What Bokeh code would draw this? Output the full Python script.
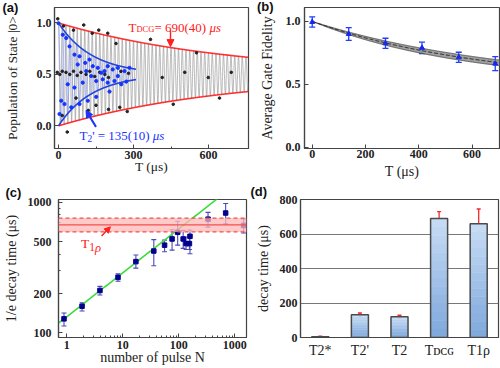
import numpy as np
from bokeh.plotting import figure
from bokeh.layouts import row, column
from bokeh.models import (Range1d, FixedTicker, Arrow, NormalHead, TeeHead,
                          Whisker, ColumnDataSource, BoxAnnotation, Span,
                          NumeralTickFormatter, FactorRange)
from bokeh.embed import file_html
from bokeh.resources import INLINE
from bokeh.core.properties import value

SERIF = "Liberation Serif"
SANS = "Liberation Sans"

# ---------------- panel (a) data ----------------
T_DCG = 690.0        # us, fitted decay (red envelope)
T2_PRIME = 135.0     # us, fitted decay (blue envelope)
OSC_PERIOD_GRAY = 15.0
OSC_PERIOD_BLUE = 24.0
a_blk_T = [-3, 20, 60, 101, 135, 161, 197, 230, 368, 552,
           -5, 5, 15, 30, 45, 60, 75, 90, 110, 125, 145, 165, 185, 200, 250, 280, 415, 505, 599, 691,
           35, 15, 70, 119, 150, 200, 245, 275, 459, 644]
a_blk_P = [1.04, 0.97, 0.93, 0.98, 0.90, 0.93, 0.90, 0.80, 0.84, 0.71,
           0.52, 0.50, 0.53, 0.52, 0.50, 0.53, 0.49, 0.52, 0.50, 0.53, 0.48, 0.52, 0.50, 0.47, 0.53, 0.51, 0.47, 0.52, 0.47, 0.52,
           -0.06, 0.10, 0.27, 0.15, 0.20, 0.16, 0.18, 0.14, 0.21, 0.27]
a_blu_T = [0, 17, 31, 44, 64, 84, 107, 124, 137, 157, 171, 197, 217, 237, 264, 284,
           64, 97, 131, 151, 177, 197, 224, 251, 271,
           24, 51, 84, 117, 151, 204, 11, 37, 111, 4, 77, 184, 237]
a_blu_P = [0.997, 0.885, 0.853, 0.772, 0.692, 0.676, 0.612, 0.644, 0.580, 0.564, 0.516, 0.580, 0.548, 0.564, 0.532, 0.564,
           0.372, 0.420, 0.484, 0.436, 0.452, 0.420, 0.436, 0.404, 0.430,
           0.212, 0.180, 0.212, 0.244, 0.282, 0.333, 0.244, 0.404, 0.532, 0.115, 0.596, 0.532, 0.484]

# ---------------- panel (b) data ----------------
b_T = [0, 137, 275, 412, 550, 687]
b_F = [0.995, 0.900, 0.826, 0.790, 0.715, 0.665]
b_err = [0.040, 0.050, 0.040, 0.045, 0.040, 0.055]
B_T_FIT, B_T_LO, B_T_HI = 660.0, 580.0, 740.0

# ---------------- panel (c) data ----------------
c_N = [0.89, 1.87, 3.9, 8.2, 17.1, 35.7, 55.6, 75.7, 95.3, 119.4, 134.6, 154.5, 158, 332, 685, 1431]
c_T = [128, 160, 211, 266, 351, 423, 469, 523, 588, 523, 482, 482, 548, 741, 826, 664]
c_lo = [113, 147, 195, 248, 313, 326, 418, 430, 469, 443, 434, 434, 403, 644, 682, 581]
c_hi = [142, 170, 227, 283, 394, 517, 512, 615, 714, 608, 542, 542, 612, 836, 977, 745]
C_FIT_A, C_FIT_EXP = 133.0, 0.336
T1RHO, T1RHO_LO, T1RHO_HI = 670.0, 592.0, 755.0

# ---------------- panel (d) data ----------------
d_cats = ["T2*", "T2'", "T2", "T\u1d05\u1d04\u0262", "T1\u03c1"]
d_vals = [5, 132, 120, 690, 660]
d_err = [3, 10, 9, 40, 85]

TW = {' ': .25, "'": .18, '(': .333, ')': .333, '=': .564, 'T': .611, 'D': .722, 'C': .667,
      'G': .722, '\u03bc': .5, 's': .389, '\u03c1': .5, '*': .5}


def tw(s, size):
    return sum(TW.get(ch, .5) for ch in s) * size


def rich(p, x, y, segs, color):
    off = 0.0
    for txt, size, dy, style in segs:
        p.text(x=[x], y=[y], text=[txt], x_offset=off, y_offset=dy,
               text_font=value(SERIF), text_font_size=f"{size}px", text_font_style=style,
               text_color=color, text_baseline="alphabetic", text_align="left")
        off += tw(txt, size)


def style(p, tick_font="12px", lab_font="14px"):
    p.outline_line_color = "#444444"
    p.outline_line_width = 1.2
    p.grid.visible = False
    p.background_fill_color = "white"
    p.border_fill_color = "white"
    for ax in p.axis:
        ax.axis_line_color = "#444444"
        ax.axis_line_width = 1.2
        ax.major_tick_in = 4
        ax.major_tick_out = 0
        ax.minor_tick_in = 2
        ax.minor_tick_out = 0
        ax.major_tick_line_color = "#444444"
        ax.minor_tick_line_color = "#444444"
        ax.major_label_text_font = SERIF
        ax.major_label_text_font_style = "bold"
        ax.major_label_text_font_size = tick_font
        ax.major_label_text_color = "#222222"
        ax.axis_label_text_font = SERIF
        ax.axis_label_text_font_style = "normal"
        ax.axis_label_text_font_size = lab_font
        ax.axis_label_text_color = "#222222"


def panel_title(p, txt, offset, standoff, valign):
    p.title.text = txt
    p.title.align = "left"
    p.title.offset = offset
    p.title.standoff = standoff
    p.title.vertical_align = valign
    p.title.text_font = SANS
    p.title.text_font_style = "bold"
    p.title.text_font_size = "13px"
    p.title.text_color = "#111111"


# ================= (a) =================
pa = figure(width=250, height=184, x_range=Range1d(-16, 760), y_range=Range1d(-0.22, 1.15),
            output_backend="svg", toolbar_location=None,
            min_border_left=54, min_border_right=2, min_border_top=7, min_border_bottom=34)
ta = np.linspace(0, 760, 5000)
pa.line(ta, 0.5 + 0.5 * np.exp(-ta / T_DCG) * np.cos(2 * np.pi * ta / OSC_PERIOD_GRAY),
        line_color="#8a8a8a", line_width=0.6)
tb = np.linspace(0, 300, 1500)
pa.line(tb, 0.5 + 0.5 * np.exp(-tb / T2_PRIME) * np.cos(2 * np.pi * tb / OSC_PERIOD_BLUE),
        line_color="#7f95ff", line_width=0.7, line_alpha=0.8)
pa.line(ta, 0.5 + 0.5 * np.exp(-ta / T_DCG), line_color="#ff2a2a", line_width=1.6)
pa.line(ta, 0.5 - 0.5 * np.exp(-ta / T_DCG), line_color="#ff2a2a", line_width=1.6)
te = np.linspace(0, 310, 400)
pa.line(te, 0.5 + 0.5 * np.exp(-te / T2_PRIME), line_color="#2244dd", line_width=1.6)
pa.line(te, 0.5 - 0.5 * np.exp(-te / T2_PRIME), line_color="#2244dd", line_width=1.6)
pa.scatter(a_blk_T, a_blk_P, size=2.6, color="#222222")
pa.scatter(a_blu_T, a_blu_P, size=3.2, color="#1533ff")
rich(pa, 280, 0.957, [("T", 13, 0, "normal"), ("DCG", 8.5, 2, "normal"),
                      ("= 690(40) ", 13, 0, "normal"), ("\u03bcs", 13, 0, "italic")], "#ff2020")
pa.add_layout(Arrow(end=NormalHead(size=7, fill_color="#ff2020", line_color="#ff2020"),
                    x_start=448, y_start=0.93, x_end=448, y_end=0.77,
                    line_color="#ff2020", line_width=1.4))
rich(pa, 84, -0.096, [("T", 13, 0, "normal"), ("2", 9.5, 3, "normal"),
                      ("' = 135(10) ", 13, 0, "normal"), ("\u03bcs", 13, 0, "italic")], "#1a33ff")
pa.add_layout(Arrow(end=NormalHead(size=7, fill_color="#1a33ff", line_color="#1a33ff"),
                    x_start=150, y_start=-0.01, x_end=110, y_end=0.15,
                    line_color="#1a33ff", line_width=2))
style(pa, lab_font="13.5px")
pa.xaxis.ticker = FixedTicker(ticks=[0, 300, 600], minor_ticks=[150, 450])
pa.yaxis.ticker = FixedTicker(ticks=[0.0, 0.5, 1.0], minor_ticks=[])
pa.yaxis.formatter = NumeralTickFormatter(format="0.0")
pa.xaxis.axis_label = "T (\u03bcs)"
pa.yaxis.axis_label = "Population of State |0>"
pa.yaxis.major_label_standoff = 3
pa.yaxis.axis_label_standoff = 14
pa.xaxis.major_label_standoff = 2
pa.xaxis.axis_label_standoff = -3
panel_title(pa, "(a)", -52, -15, "bottom")

# ================= (b) =================
pb = figure(width=250, height=184, x_range=Range1d(-29, 703), y_range=Range1d(-0.008, 1.11),
            output_backend="svg", toolbar_location=None,
            min_border_left=54, min_border_right=1, min_border_top=5, min_border_bottom=36)
tf = np.linspace(0, 703, 300)
up = 0.5 + 0.5 * np.exp(-tf / B_T_HI)
lo = 0.5 + 0.5 * np.exp(-tf / B_T_LO)
pb.varea(x=tf, y1=lo, y2=up, fill_color="#959595", fill_alpha=0.9)
pb.line(tf, up, line_color="#444444", line_width=0.8)
pb.line(tf, lo, line_color="#444444", line_width=0.8)
pb.line(tf, 0.5 + 0.5 * np.exp(-tf / B_T_FIT), line_color="#222222", line_width=1.0, line_dash="4 2")
srcb = ColumnDataSource(dict(x=b_T, y=b_F, lo=[f - e for f, e in zip(b_F, b_err)],
                             hi=[f + e for f, e in zip(b_F, b_err)]))
pb.add_layout(Whisker(source=srcb, base="x", upper="hi", lower="lo", line_color="#1f3cff",
                      line_width=1.3,
                      upper_head=TeeHead(size=6, line_color="#1f3cff", line_width=1.3),
                      lower_head=TeeHead(size=6, line_color="#1f3cff", line_width=1.3)))
pb.scatter("x", "y", source=srcb, marker="triangle", size=5, color="#1428f0")
style(pb)
pb.xaxis.ticker = FixedTicker(ticks=[0, 200, 400, 600], minor_ticks=[])
pb.yaxis.ticker = FixedTicker(ticks=[0.0, 0.5, 1.0], minor_ticks=[])
pb.yaxis.formatter = NumeralTickFormatter(format="0.0")
pb.xaxis.axis_label = "T (\u03bcs)"
pb.yaxis.axis_label = "Average Gate Fidelity"
pb.yaxis.major_label_standoff = 4
pb.yaxis.axis_label_standoff = 8
pb.xaxis.major_label_standoff = 1
pb.xaxis.axis_label_standoff = 3
panel_title(pb, "(b)", -47.5, -13, "bottom")

# ================= (c) =================
pc = figure(width=250, height=184, x_axis_type="log", y_axis_type="log",
            x_range=Range1d(0.71, 1614), y_range=Range1d(92.2, 1048),
            output_backend="svg", toolbar_location=None,
            min_border_left=54, min_border_right=4, min_border_top=13, min_border_bottom=31)
pc.add_layout(BoxAnnotation(bottom=T1RHO_LO, top=T1RHO_HI, fill_color="#ffb8b8", fill_alpha=0.75,
                            line_alpha=0))
pc.add_layout(Span(location=T1RHO, dimension="width", line_color="#f05050", line_width=1.2))
pc.add_layout(Span(location=T1RHO_LO, dimension="width", line_color="#f05050", line_width=1.2,
                   line_dash="4 3"))
pc.add_layout(Span(location=T1RHO_HI, dimension="width", line_color="#f05050", line_width=1.2,
                   line_dash="4 3"))
nf = np.logspace(np.log10(0.71), np.log10(1614), 100)
pc.line(nf, C_FIT_A * nf ** C_FIT_EXP, line_color="#3ddc3d", line_width=1.6)
srcc = ColumnDataSource(dict(x=c_N, y=c_T, lo=c_lo, hi=c_hi))
pc.add_layout(Whisker(source=srcc, base="x", upper="hi", lower="lo", line_color="#4a4ab8",
                      line_width=1.1,
                      upper_head=TeeHead(size=5, line_color="#4a4ab8", line_width=1.1),
                      lower_head=TeeHead(size=5, line_color="#4a4ab8", line_width=1.1)))
pc.scatter("x", "y", source=srcc, marker="square", size=4.5, color="#00008f")
rich(pc, 1.79, 480, [("T", 13.5, 0, "normal"), ("1", 11.5, 3, "normal"), ("\u03c1", 12.5, 4, "italic")],
     "#ff2020")
pc.add_layout(Arrow(end=NormalHead(size=6, fill_color="#ff2020", line_color="#ff2020"),
                    x_start=4.17, y_start=551, x_end=6.0, y_end=648,
                    line_color="#ff2020", line_width=1.4))
style(pc)
pc.xaxis.ticker = FixedTicker(ticks=[1, 10, 100, 1000],
                              minor_ticks=[m * d for d in (1, 10, 100, 1000) for m in range(2, 10)])
pc.yaxis.ticker = FixedTicker(ticks=[100, 200, 500, 1000], minor_ticks=[300, 400, 600, 700, 800, 900])
pc.xaxis.formatter = NumeralTickFormatter(format="0")
pc.yaxis.formatter = NumeralTickFormatter(format="0")
pc.xaxis.axis_label = "number of pulse N"
pc.yaxis.axis_label = "1/e decay time (\u03bcs)"
pc.yaxis.major_label_standoff = 7
pc.yaxis.axis_label_standoff = 6
pc.xaxis.major_label_standoff = 3
pc.xaxis.axis_label_standoff = -2
panel_title(pc, "(c)", -53, -4, "top")

# ================= (d) =================
pd_ = figure(width=250, height=184, x_range=FactorRange(*d_cats), y_range=Range1d(0, 800),
             output_backend="svg", toolbar_location=None,
             min_border_left=50, min_border_right=2, min_border_top=15, min_border_bottom=31)
# vertical colour gradient inside each bar (slices of each bar's own height)
N_SLICES = 14
c_bot = np.array([0x7d, 0xa7, 0xdb])
c_top = np.array([0xc8, 0xdd, 0xf5])
for k in range(N_SLICES):
    f0, f1 = k / N_SLICES, (k + 1) / N_SLICES
    col = c_bot + (c_top - c_bot) * (f0 + f1) / 2
    hexcol = "#%02x%02x%02x" % tuple(int(round(c)) for c in col)
    pd_.vbar(x=d_cats, bottom=[v * f0 for v in d_vals], top=[v * f1 for v in d_vals], width=0.43,
             fill_color=hexcol, line_color=hexcol, line_width=0.5)
srcd = ColumnDataSource(dict(x=d_cats, top=d_vals, lo=[v - e for v, e in zip(d_vals, d_err)],
                             hi=[v + e for v, e in zip(d_vals, d_err)]))
pd_.vbar(x="x", top="top", source=srcd, width=0.43, fill_alpha=0,
         line_color="#4a4a4a", line_width=1.5)
pd_.add_layout(Whisker(source=srcd, base="x", upper="hi", lower="lo", line_color="#ee2a2a",
                       line_width=1.3,
                       upper_head=TeeHead(size=4, line_color="#ee2a2a", line_width=1.3),
                       lower_head=TeeHead(size=4, line_color="#ee2a2a", line_width=1.3)))
style(pd_)
pd_.ygrid.visible = True
pd_.ygrid.grid_line_color = "#777777"
pd_.ygrid.grid_line_width = 1
pd_.yaxis.ticker = FixedTicker(ticks=[0, 200, 400, 600, 800], minor_ticks=[])
pd_.ygrid.ticker = FixedTicker(ticks=[200, 400, 600], minor_ticks=[])
pd_.xaxis.major_tick_in = 0
pd_.xaxis.major_label_text_font_style = "normal"
pd_.xaxis.major_label_text_font_size = "14px"
pd_.xaxis.major_label_standoff = 5
pd_.yaxis.major_tick_in = 0
pd_.yaxis.axis_label = "decay time (\u03bcs)"
pd_.yaxis.major_label_standoff = 3
pd_.yaxis.axis_label_standoff = 6
panel_title(pd_, "(d)", -50, -2, "top")

layout = column(row(pa, pb), row(pc, pd_))
open("out.html", "w").write(file_html(layout, INLINE))
